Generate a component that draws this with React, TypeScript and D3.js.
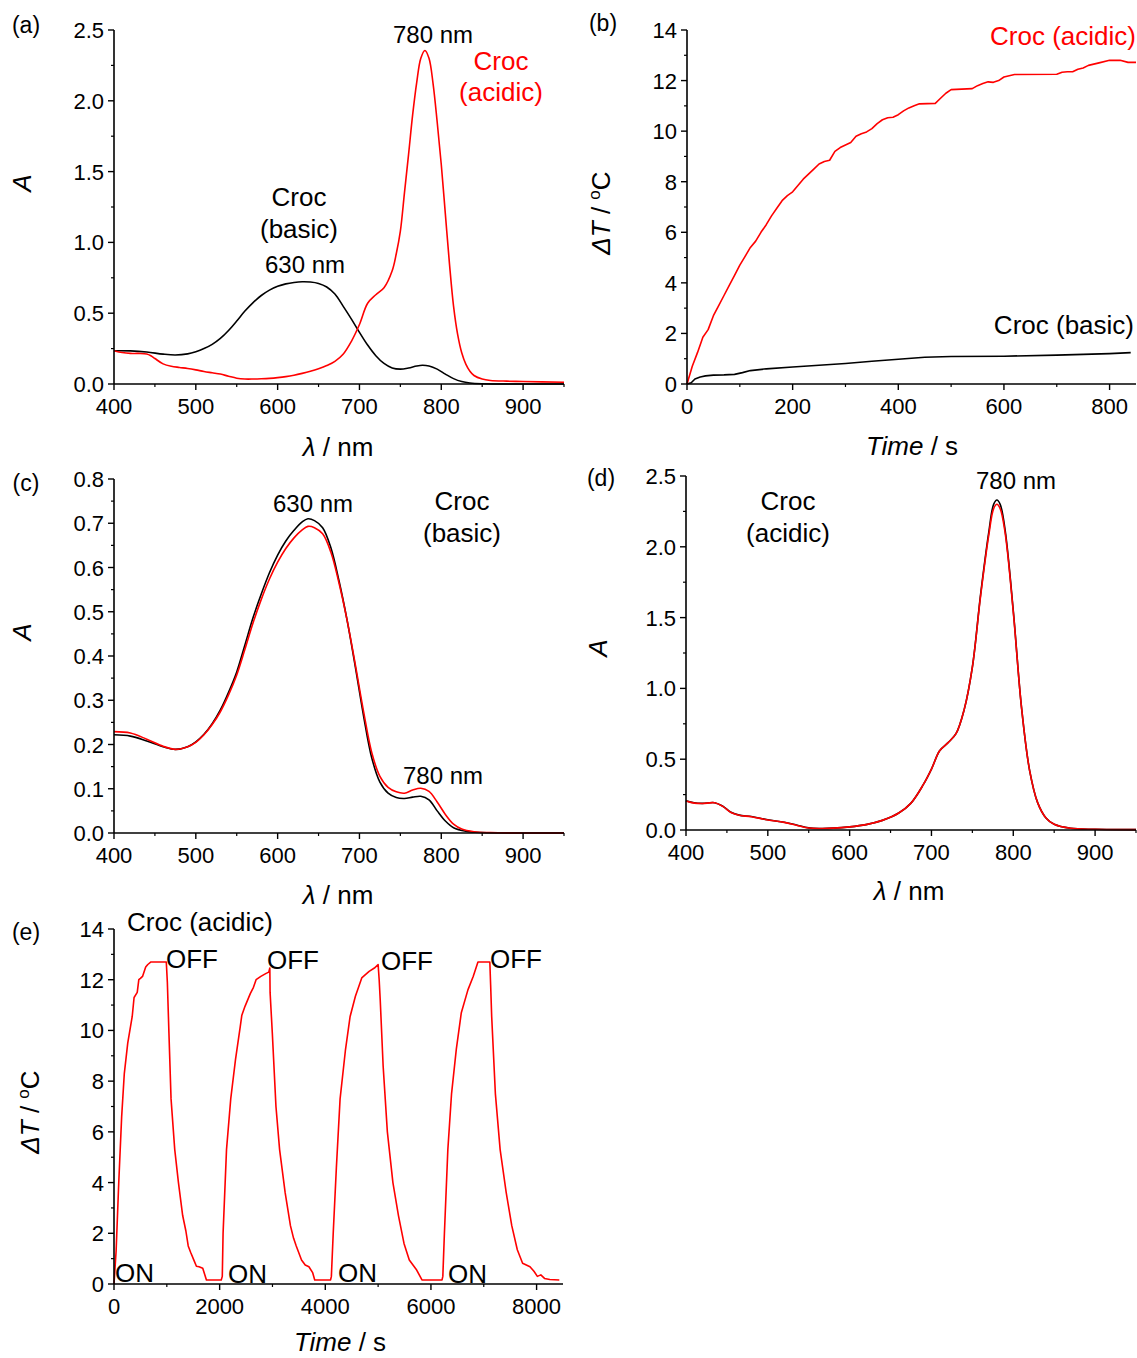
import React from "react";
import * as d3 from "d3";

const FONT = "'Liberation Sans', Arial, Helvetica, sans-serif";
const RED = "#ff0000";

// ---------- tick values ----------
const wlMajor = [400, 500, 600, 700, 800, 900];
const wlMinor = [450, 550, 650, 750, 850, 950];
const absMajorA = [0, 0.5, 1.0, 1.5, 2.0, 2.5];
const absMinorA = [0.25, 0.75, 1.25, 1.75, 2.25];
const absMajorC = [0, 0.1, 0.2, 0.3, 0.4, 0.5, 0.6, 0.7, 0.8];
const absMinorC = [0.05, 0.15, 0.25, 0.35, 0.45, 0.55, 0.65, 0.75];
const tMajorB = [0, 200, 400, 600, 800];
const tMinorB = [100, 300, 500, 700];
const dtMajor = [0, 2, 4, 6, 8, 10, 12, 14];
const dtMinor = [1, 3, 5, 7, 9, 11, 13];
const tMajorE = [0, 2000, 4000, 6000, 8000];
const tMinorE = [1000, 3000, 5000, 7000];

// ---------- panel (a) ----------
const aBasic: [number, number][] = [
  [400, 0.235], [420, 0.234], [440, 0.226], [460, 0.211], [475, 0.205], [490, 0.213],
  [500, 0.228], [510, 0.25], [520, 0.28], [530, 0.322], [540, 0.378], [550, 0.445],
  [560, 0.515], [570, 0.575], [580, 0.625], [590, 0.663], [600, 0.69], [610, 0.707],
  [620, 0.717], [630, 0.722], [640, 0.72], [650, 0.71], [660, 0.685], [670, 0.635],
  [680, 0.55], [690, 0.46], [700, 0.365], [710, 0.275], [720, 0.2], [730, 0.145],
  [740, 0.113], [750, 0.105], [760, 0.113], [770, 0.127], [777, 0.132], [785, 0.127],
  [795, 0.105], [805, 0.07], [815, 0.038], [825, 0.017], [835, 0.007], [850, 0.002],
  [900, 0.0], [950, 0.0],
];
const aAcidic: [number, number][] = [
  [400, 0.235], [410, 0.222], [420, 0.216], [430, 0.216], [440, 0.212], [445, 0.2],
  [450, 0.18], [460, 0.142], [470, 0.125], [480, 0.117], [490, 0.11], [500, 0.1],
  [510, 0.088], [520, 0.079], [530, 0.07], [540, 0.055], [550, 0.041], [560, 0.035],
  [570, 0.035], [580, 0.037], [590, 0.04], [600, 0.045], [610, 0.052], [620, 0.062],
  [630, 0.075], [640, 0.09], [650, 0.108], [660, 0.13], [670, 0.16], [680, 0.21],
  [690, 0.3], [700, 0.42], [710, 0.57], [720, 0.63], [730, 0.68], [740, 0.8],
  [745, 0.92], [750, 1.08], [755, 1.35], [760, 1.62], [765, 1.9], [770, 2.13],
  [775, 2.3], [780, 2.355], [785, 2.3], [790, 2.12], [795, 1.85], [800, 1.55],
  [805, 1.2], [810, 0.85], [815, 0.55], [820, 0.35], [825, 0.22], [830, 0.14],
  [835, 0.09], [840, 0.06], [850, 0.035], [860, 0.025], [880, 0.02], [900, 0.018],
  [950, 0.012],
];

// ---------- panel (b) ----------
const bAcidic: [number, number][] = [
  [0, 0], [10, 0.7], [20, 1.25], [30, 1.85], [40, 2.15], [50, 2.7], [60, 3.1],
  [70, 3.5], [80, 3.9], [90, 4.3], [100, 4.7], [110, 5.05], [120, 5.4], [130, 5.65],
  [140, 6.0], [150, 6.3], [160, 6.65], [170, 6.95], [180, 7.25], [190, 7.45],
  [200, 7.6], [210, 7.85], [220, 8.1], [230, 8.3], [240, 8.5], [250, 8.7],
  [260, 8.8], [270, 8.85], [280, 9.2], [290, 9.35], [300, 9.45], [310, 9.55],
  [320, 9.8], [330, 9.9], [340, 9.97], [350, 10.1], [360, 10.3], [370, 10.45],
  [380, 10.53], [390, 10.55], [400, 10.65], [410, 10.8], [420, 10.92], [430, 11.0],
  [440, 11.08], [470, 11.1], [480, 11.3], [490, 11.5], [500, 11.64], [540, 11.68],
  [550, 11.8], [560, 11.88], [570, 11.95], [580, 11.93], [590, 12.0], [600, 12.14],
  [620, 12.24], [700, 12.25], [710, 12.33], [720, 12.35], [730, 12.35], [740, 12.45],
  [750, 12.5], [760, 12.6], [780, 12.7], [800, 12.8], [820, 12.8], [835, 12.72],
  [850, 12.72],
];
const bBasic: [number, number][] = [
  [0, 0], [8, 0.05], [15, 0.2], [25, 0.28], [35, 0.32], [50, 0.35], [70, 0.36],
  [90, 0.38], [105, 0.45], [120, 0.53], [150, 0.6], [200, 0.67], [250, 0.74],
  [300, 0.81], [350, 0.9], [400, 0.98], [450, 1.06], [500, 1.09], [600, 1.1],
  [700, 1.14], [800, 1.2], [840, 1.24],
];

// ---------- panel (c) ----------
const cBasic: [number, number][] = [
  [400, 0.222], [420, 0.219], [440, 0.208], [460, 0.195], [475, 0.189], [490, 0.195],
  [500, 0.206], [510, 0.223], [520, 0.247], [530, 0.278], [540, 0.318], [550, 0.364],
  [560, 0.425], [570, 0.487], [580, 0.54], [590, 0.588], [600, 0.628], [610, 0.66],
  [620, 0.684], [630, 0.703], [637, 0.71], [645, 0.706], [655, 0.69], [665, 0.645],
  [675, 0.57], [685, 0.48], [695, 0.375], [705, 0.265], [715, 0.17], [725, 0.115],
  [735, 0.09], [745, 0.08], [755, 0.078], [765, 0.081], [775, 0.083], [785, 0.075],
  [795, 0.05], [805, 0.027], [815, 0.012], [830, 0.004], [850, 0.001], [900, 0],
  [950, 0],
];
const cAfter: [number, number][] = [
  [400, 0.229], [420, 0.226], [440, 0.212], [460, 0.196], [475, 0.189], [490, 0.195],
  [500, 0.205], [510, 0.222], [520, 0.245], [530, 0.274], [540, 0.312], [550, 0.357],
  [560, 0.415], [570, 0.475], [580, 0.528], [590, 0.574], [600, 0.612], [610, 0.643],
  [620, 0.667], [630, 0.685], [637, 0.693], [645, 0.69], [655, 0.676], [665, 0.635],
  [675, 0.565], [685, 0.48], [695, 0.38], [705, 0.275], [715, 0.182], [725, 0.128],
  [735, 0.103], [745, 0.093], [755, 0.09], [765, 0.097], [775, 0.101], [785, 0.094],
  [795, 0.07], [805, 0.042], [815, 0.02], [825, 0.009], [840, 0.003], [860, 0.001],
  [900, 0], [950, 0],
];

// ---------- panel (d) ----------
const dBefore: [number, number][] = [
  [400, 0.207], [410, 0.192], [420, 0.188], [435, 0.193], [445, 0.168], [455, 0.125],
  [465, 0.105], [480, 0.095], [500, 0.072], [520, 0.055], [535, 0.035], [550, 0.015],
  [565, 0.011], [580, 0.013], [600, 0.022], [620, 0.038], [640, 0.068], [660, 0.12],
  [675, 0.19], [690, 0.32], [700, 0.43], [710, 0.56], [720, 0.615], [730, 0.68],
  [740, 0.85], [750, 1.15], [760, 1.66], [770, 2.1], [776, 2.3], [780, 2.33],
  [784, 2.3], [790, 2.12], [800, 1.55], [810, 0.87], [820, 0.42], [830, 0.19],
  [840, 0.085], [850, 0.04], [870, 0.012], [900, 0.005], [950, 0.003],
];
const dAfter: [number, number][] = [
  [400, 0.205], [410, 0.19], [420, 0.187], [435, 0.192], [445, 0.167], [455, 0.124],
  [465, 0.104], [480, 0.094], [500, 0.071], [520, 0.054], [535, 0.034], [550, 0.014],
  [565, 0.011], [580, 0.013], [600, 0.022], [620, 0.038], [640, 0.068], [660, 0.12],
  [675, 0.19], [690, 0.32], [700, 0.43], [710, 0.56], [720, 0.615], [730, 0.68],
  [740, 0.85], [750, 1.15], [760, 1.65], [770, 2.08], [776, 2.27], [780, 2.3],
  [784, 2.27], [790, 2.1], [800, 1.54], [810, 0.87], [820, 0.42], [830, 0.19],
  [840, 0.085], [850, 0.04], [870, 0.012], [900, 0.005], [950, 0.003],
];

// ---------- panel (e) ----------
const eCycles: [number, number][] = [
  [0, 0], [40, 1.3], [90, 4.0], [145, 6.6], [195, 8.3], [260, 9.5], [345, 10.55],
  [380, 11.3], [440, 11.5], [470, 12.0], [500, 12.05], [540, 12.13], [600, 12.5],
  [640, 12.6], [700, 12.7], [990, 12.7],
  [1010, 11.9], [1040, 9.9], [1080, 7.3], [1150, 5.3], [1220, 4.0], [1300, 2.7],
  [1360, 2.1], [1405, 1.5], [1450, 1.25], [1510, 0.95], [1560, 0.7], [1610, 0.68],
  [1680, 0.62], [1750, 0.16], [2030, 0.16],
  [2050, 0.3], [2065, 2.0], [2130, 5.3], [2210, 7.3], [2300, 8.85], [2390, 10.15],
  [2420, 10.6], [2480, 10.95], [2580, 11.45], [2640, 11.7], [2690, 12.0], [2780, 12.13],
  [2880, 12.25], [2930, 12.3], [2950, 12.46],
  [2955, 11.5], [2997, 9.9], [3066, 7.0], [3135, 5.3], [3240, 3.6], [3340, 2.3],
  [3400, 1.8], [3450, 1.5], [3550, 0.95], [3620, 0.75], [3690, 0.68], [3760, 0.45],
  [3800, 0.16], [4100, 0.16],
  [4115, 0.3], [4150, 2.0], [4210, 4.6], [4280, 7.3], [4380, 9.2], [4470, 10.55],
  [4570, 11.35], [4690, 12.07], [4830, 12.33], [4930, 12.46], [5000, 12.6],
  [5020, 12.0], [5040, 11.2], [5095, 8.6], [5175, 6.0], [5280, 4.0], [5385, 2.7],
  [5490, 1.6], [5590, 0.95], [5730, 0.55], [5830, 0.16], [6210, 0.16],
  [6225, 0.3], [6255, 2.0], [6320, 5.3], [6390, 7.5], [6480, 9.25], [6575, 10.7],
  [6700, 11.6], [6800, 12.13], [6890, 12.7], [7115, 12.7],
  [7130, 11.8], [7150, 10.55], [7220, 7.5], [7310, 5.3], [7425, 3.6], [7530, 2.3],
  [7635, 1.35], [7735, 0.82], [7875, 0.68], [7950, 0.5], [8015, 0.3], [8080, 0.36],
  [8150, 0.22], [8250, 0.18], [8430, 0.16],
];

type Series = { data: [number, number][]; color: string };

type PanelProps = {
  px: [number, number];
  py: [number, number];
  xDomain: [number, number];
  yDomain: [number, number];
  xMajor: number[];
  xMinor: number[];
  yMajor: number[];
  yMinor: number[];
  xFmt: (v: number) => string;
  yFmt: (v: number) => string;
  series: Series[];
  smooth: boolean;
};

const TICK_FS = 22;

function Panel(p: PanelProps) {
  const xs = d3.scaleLinear().domain(p.xDomain).range(p.px);
  const ys = d3.scaleLinear().domain(p.yDomain).range(p.py);
  const line = d3
    .line<[number, number]>()
    .x((d) => xs(d[0]))
    .y((d) => ys(d[1]))
    .curve(p.smooth ? d3.curveCatmullRom.alpha(0.5) : d3.curveLinear);
  const x0 = p.px[0];
  const x1 = p.px[1];
  const yb = p.py[0];
  const yt = p.py[1];
  return (
    <g>
      {p.series.map((s, i) => (
        <path key={i} d={line(s.data) || ""} fill="none" stroke={s.color} strokeWidth={1.6} strokeLinejoin="round" />
      ))}
      <line x1={x0} x2={x1} y1={yb} y2={yb} stroke="#000" strokeWidth={1.6} />
      <line x1={x0} x2={x0} y1={yb} y2={yt} stroke="#000" strokeWidth={1.6} />
      {p.xMajor.map((v) => (
        <g key={"xM" + v}>
          <line x1={xs(v)} x2={xs(v)} y1={yb} y2={yb + 6} stroke="#000" strokeWidth={1.4} />
          <text x={xs(v)} y={yb + 30} textAnchor="middle" fontSize={TICK_FS} fontFamily={FONT}>
            {p.xFmt(v)}
          </text>
        </g>
      ))}
      {p.xMinor.map((v) => (
        <line key={"xm" + v} x1={xs(v)} x2={xs(v)} y1={yb} y2={yb + 3} stroke="#000" strokeWidth={1.2} />
      ))}
      {p.yMajor.map((v) => (
        <g key={"yM" + v}>
          <line x1={x0 - 6} x2={x0} y1={ys(v)} y2={ys(v)} stroke="#000" strokeWidth={1.4} />
          <text x={x0 - 10} y={ys(v) + 8} textAnchor="end" fontSize={TICK_FS} fontFamily={FONT}>
            {p.yFmt(v)}
          </text>
        </g>
      ))}
      {p.yMinor.map((v) => (
        <line key={"ym" + v} x1={x0 - 3} x2={x0} y1={ys(v)} y2={ys(v)} stroke="#000" strokeWidth={1.2} />
      ))}
    </g>
  );
}

const f1 = d3.format(".1f");
const f0 = d3.format("d");

function Txt(props: { x: number; y: number; children: React.ReactNode; size?: number; color?: string; anchor?: string }) {
  return (
    <text
      x={props.x}
      y={props.y}
      fontSize={props.size || 24}
      fill={props.color || "#000"}
      textAnchor={props.anchor || "middle"}
      fontFamily={FONT}
    >
      {props.children}
    </text>
  );
}

function YTitleA({ x, y }: { x: number; y: number }) {
  return (
    <text transform={`translate(${x},${y}) rotate(-90)`} textAnchor="middle" fontSize={26} fontFamily={FONT} fontStyle="italic">
      A
    </text>
  );
}

function YTitleDT({ x, y }: { x: number; y: number }) {
  return (
    <text transform={`translate(${x},${y}) rotate(-90)`} textAnchor="middle" fontSize={26} fontFamily={FONT}>
      <tspan fontStyle="italic">ΔT</tspan>
      <tspan> / </tspan>
      <tspan fontSize={17} dy={-10}>o</tspan>
      <tspan dy={10}>C</tspan>
    </text>
  );
}

function XTitleNm({ x, y }: { x: number; y: number }) {
  return (
    <text x={x} y={y} textAnchor="middle" fontSize={26} fontFamily={FONT}>
      <tspan fontStyle="italic">λ</tspan>
      <tspan> / nm</tspan>
    </text>
  );
}

function XTitleTime({ x, y }: { x: number; y: number }) {
  return (
    <text x={x} y={y} textAnchor="middle" fontSize={26} fontFamily={FONT}>
      <tspan fontStyle="italic">Time</tspan>
      <tspan> / s</tspan>
    </text>
  );
}

export default function App() {
  return (
    <svg
      width={1137}
      height={1358}
      viewBox="0 0 1137 1358"
      style={{ position: "absolute", left: 0, top: 0, background: "#fff" }}
    >
      <rect width={1137} height={1358} fill="#fff" />
      {/* (a) */}
      <Panel
        px={[114, 564]}
        py={[384, 30]}
        xDomain={[400, 950]}
        yDomain={[0, 2.5]}
        xMajor={wlMajor}
        xMinor={wlMinor}
        yMajor={absMajorA}
        yMinor={absMinorA}
        xFmt={f0}
        yFmt={f1}
        smooth={true}
        series={[
          { data: aBasic, color: "#000" },
          { data: aAcidic, color: RED },
        ]}
      />
      <Txt x={26} y={33} size={23}>(a)</Txt>
      <Txt x={433} y={43}>780 nm</Txt>
      <Txt x={501} y={70} size={26} color={RED}>Croc</Txt>
      <Txt x={501} y={101} size={26} color={RED}>(acidic)</Txt>
      <Txt x={299} y={206} size={26}>Croc</Txt>
      <Txt x={299} y={238} size={26}>(basic)</Txt>
      <Txt x={305} y={273}>630 nm</Txt>
      <YTitleA x={31} y={183} />
      <XTitleNm x={338} y={456} />

      {/* (b) */}
      <Panel
        px={[687, 1136]}
        py={[384, 30]}
        xDomain={[0, 850]}
        yDomain={[0, 14]}
        xMajor={tMajorB}
        xMinor={tMinorB}
        yMajor={dtMajor}
        yMinor={dtMinor}
        xFmt={f0}
        yFmt={f0}
        smooth={false}
        series={[
          { data: bBasic, color: "#000" },
          { data: bAcidic, color: RED },
        ]}
      />
      <Txt x={603} y={31} size={23}>(b)</Txt>
      <Txt x={1136} y={45} size={26} color={RED} anchor="end">Croc (acidic)</Txt>
      <Txt x={1134} y={334} size={26} anchor="end">Croc (basic)</Txt>
      <YTitleDT x={610} y={213} />
      <XTitleTime x={912} y={455} />

      {/* (c) */}
      <Panel
        px={[114, 564]}
        py={[833, 479]}
        xDomain={[400, 950]}
        yDomain={[0, 0.8]}
        xMajor={wlMajor}
        xMinor={wlMinor}
        yMajor={absMajorC}
        yMinor={absMinorC}
        xFmt={f0}
        yFmt={f1}
        smooth={true}
        series={[
          { data: cBasic, color: "#000" },
          { data: cAfter, color: RED },
        ]}
      />
      <Txt x={26} y={491} size={23}>(c)</Txt>
      <Txt x={313} y={512}>630 nm</Txt>
      <Txt x={462} y={510} size={26}>Croc</Txt>
      <Txt x={462} y={542} size={26}>(basic)</Txt>
      <Txt x={443} y={784}>780 nm</Txt>
      <YTitleA x={31} y={632} />
      <XTitleNm x={338} y={904} />

      {/* (d) */}
      <Panel
        px={[686, 1136]}
        py={[830, 476]}
        xDomain={[400, 950]}
        yDomain={[0, 2.5]}
        xMajor={wlMajor}
        xMinor={wlMinor}
        yMajor={absMajorA}
        yMinor={absMinorA}
        xFmt={f0}
        yFmt={f1}
        smooth={true}
        series={[
          { data: dBefore, color: "#000" },
          { data: dAfter, color: RED },
        ]}
      />
      <Txt x={601} y={486} size={23}>(d)</Txt>
      <Txt x={1016} y={489}>780 nm</Txt>
      <Txt x={788} y={510} size={26}>Croc</Txt>
      <Txt x={788} y={542} size={26}>(acidic)</Txt>
      <YTitleA x={607} y={648} />
      <XTitleNm x={909} y={900} />

      {/* (e) */}
      <Panel
        px={[114, 563]}
        py={[1284, 929]}
        xDomain={[0, 8500]}
        yDomain={[0, 14]}
        xMajor={tMajorE}
        xMinor={tMinorE}
        yMajor={dtMajor}
        yMinor={dtMinor}
        xFmt={f0}
        yFmt={f0}
        smooth={false}
        series={[{ data: eCycles, color: RED }]}
      />
      <Txt x={26} y={940} size={23}>(e)</Txt>
      <Txt x={200} y={931} size={26}>Croc (acidic)</Txt>
      <Txt x={166} y={968} size={26} anchor="start">OFF</Txt>
      <Txt x={267} y={969} size={26} anchor="start">OFF</Txt>
      <Txt x={381} y={970} size={26} anchor="start">OFF</Txt>
      <Txt x={490} y={968} size={26} anchor="start">OFF</Txt>
      <Txt x={115} y={1282} size={26} anchor="start">ON</Txt>
      <Txt x={228} y={1283} size={26} anchor="start">ON</Txt>
      <Txt x={338} y={1282} size={26} anchor="start">ON</Txt>
      <Txt x={448} y={1283} size={26} anchor="start">ON</Txt>
      <YTitleDT x={39} y={1112} />
      <XTitleTime x={340} y={1351} />
    </svg>
  );
}
